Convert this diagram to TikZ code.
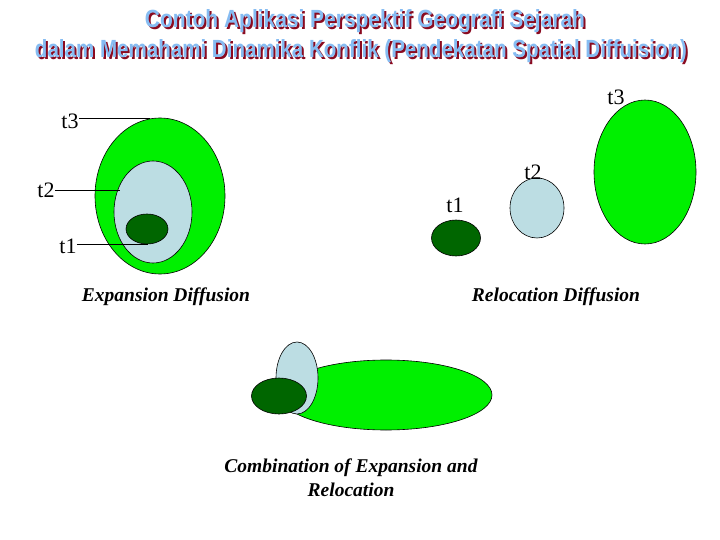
\documentclass[tikz,border=0pt]{standalone}
\usepackage{fontspec}
\setmainfont{Liberation Serif}
\newfontfamily\titlefont{Liberation Sans}
\usepackage{graphicx}
\usepackage{pdfrender}
\definecolor{brightgreen}{HTML}{00F000}
\definecolor{paleblue}{HTML}{BCDDE3}
\definecolor{deepgreen}{HTML}{006600}
\definecolor{titlefill}{HTML}{86BCF2}
\definecolor{titleline}{HTML}{1A3A9A}
\definecolor{titleshadow}{HTML}{8A0A20}
\newcommand{\titleline}[3]{%
  \node[text=titleshadow] at ([shift={(2,2)}]#1) {\resizebox{#2}{18pt}{\titlefont\bfseries\textpdfrender{TextRenderingMode=FillStroke,LineWidth=1.2,StrokeColor=titleshadow}{#3}}};
  \node[text=titlefill] at (#1) {\resizebox{#2}{18pt}{\titlefont\bfseries\textpdfrender{TextRenderingMode=FillStroke,LineWidth=0.8,StrokeColor=titleline}{#3}}};}
\tikzset{
  blob/.style={ellipse, draw=black, line width=0.6pt, inner sep=0pt},
  tlabel/.style={font=\fontsize{22}{24}\selectfont, inner sep=0pt},
  caption/.style={font=\fontsize{19.5}{24}\selectfont\bfseries\itshape, inner sep=0pt, align=center},
  leader/.style={draw=black, line width=0.9pt}
}
\usetikzlibrary{shapes.geometric}
\begin{document}
\begin{tikzpicture}[x=1pt,y=-1pt]
\useasboundingbox[fill=white] (0,0) rectangle (720,540);
% title
\coordinate (title1) at (365,21);
\coordinate (title2) at (361,51);
\titleline{title1}{440pt}{Contoh Aplikasi Perspektif Geografi Sejarah}
\titleline{title2}{652pt}{dalam Memahami Dinamika Konflik (Pendekatan Spatial Diffuision)}

% expansion diffusion
\draw[fill=brightgreen, line width=0.6pt] (160,196) ellipse [x radius=65, y radius=78];
\draw[fill=paleblue, line width=0.6pt] (153,212) ellipse [x radius=39, y radius=51];
\draw[fill=deepgreen, line width=0.6pt] (147,229) ellipse [x radius=21, y radius=15];
\node[tlabel] (lt3) at (70,121) {t3};
\node[tlabel] (lt2) at (46,190) {t2};
\node[tlabel] (lt1) at (68,246) {t1};
\coordinate (e3) at (150,118);
\coordinate (e2) at (120,190);
\coordinate (e1) at (148,244);
\draw[leader] (lt3.east |- e3) -- (e3);
\draw[leader] (lt2.east |- e2) -- (e2);
\draw[leader] (lt1.east |- e1) -- (e1);
\node[caption] (capA) at (166,297) {Expansion Diffusion};

% relocation diffusion
\node[blob, fill=deepgreen, minimum width=49pt, minimum height=36pt] (r1) at (456,238) {};
\node[blob, fill=paleblue, minimum width=54pt, minimum height=60pt] (r2) at (537,208) {};
\node[blob, fill=brightgreen, minimum width=102pt, minimum height=144pt] (r3) at (645,172) {};
\node[tlabel] (rt1) at (455,205) {t1};
\node[tlabel] (rt2) at (533,172) {t2};
\node[tlabel] (rt3) at (616,97) {t3};
\node[caption] (capB) at (556,297) {Relocation Diffusion};

% combination
\node[blob, fill=brightgreen, minimum width=212pt, minimum height=70pt] (c3) at (386,395) {};
\node[blob, fill=paleblue, minimum width=42pt, minimum height=72pt] (c2) at (297,378) {};
\node[blob, fill=deepgreen, minimum width=55pt, minimum height=36pt] (c1) at (279,396) {};
\node[caption] (capC) at (351,478) {Combination of Expansion and\\Relocation};
\end{tikzpicture}
\end{document}
